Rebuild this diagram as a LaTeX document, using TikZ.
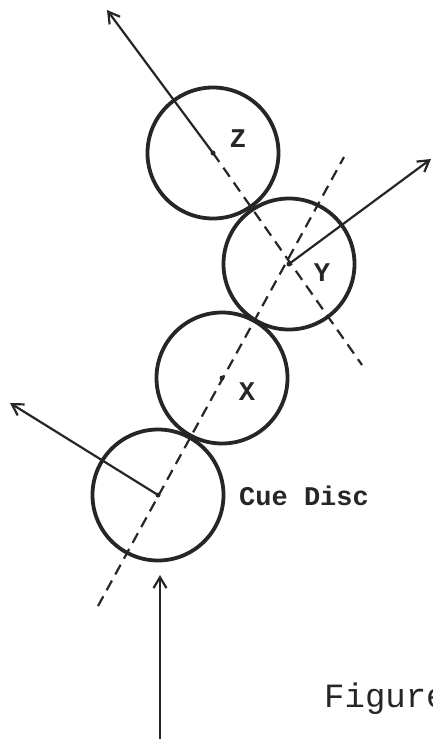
\documentclass[tikz,border=0pt]{standalone}
\usepackage{fontspec}
\setmonofont{Liberation Mono}
\usetikzlibrary{arrows.meta}
\tikzset{
  disc/.style={circle, draw, line width=3.8pt, minimum size=131pt, inner sep=0pt, color=black!85},
  centredot/.style={circle, fill, minimum size=5pt, inner sep=0pt, color=black!85},
  arrowline/.style={line width=2.2pt, color=black!85, -{Straight Barb[length=11pt,width=13pt,line width=2.2pt]}},
  dashline/.style={line width=2.2pt, color=black!85, dash pattern=on 11pt off 7pt},
  lbl/.style={font=\ttfamily\bfseries\fontsize{27}{30}\selectfont, inner sep=0pt, text=black!85},
  fig/.style={font=\ttfamily\fontsize{34}{38}\selectfont, inner sep=0pt, anchor=base west, text=black!85}
}
\begin{document}
\begin{tikzpicture}[x=1pt,y=-1pt]
\useasboundingbox (0,0) rectangle (432,739);
\clip (0,0) rectangle (432,739);
% discs
\node[disc] (z) at (213,153) {};
\node[disc] (y) at (289,264) {};
\node[disc] (x) at (222,378) {};
\node[disc] (cue) at (158,495) {};
\node[centredot] (zc) at (z.center) {};
\node[centredot] (yc) at (y.center) {};
\node[centredot] (xc) at (x.center) {};
\node[centredot] (cc) at (cue.center) {};
% free ends
\coordinate (zt) at (107,10);
\coordinate (yt) at (431,159);
\coordinate (ct) at (10,403);
\coordinate (ub) at (160,745);
\coordinate (ut) at (160,575);
\coordinate (d1a) at (98,606);
\coordinate (d1b) at (344,157);
\coordinate (d2b) at (362,365);
% dashed lines
\draw[dashline] (d1a) -- (d1b);
\draw[dashline] (z.center) -- (d2b);
% arrows
\draw[arrowline] (z.center) -- (zt);
\draw[arrowline] (y.center) -- (yt);
\draw[arrowline] (cue.center) -- (ct);
\draw[arrowline] (ub) -- (ut);
% labels
\node[lbl] (lz) at (238,139) {Z};
\node[lbl] (ly) at (322,273) {Y};
\node[lbl] (lx) at (247,392) {X};
\node[lbl, anchor=west] (lc) at (239,496) {Cue Disc};
\node[fig] (lf) at (324,707) {Figure};
\end{tikzpicture}
\end{document}
